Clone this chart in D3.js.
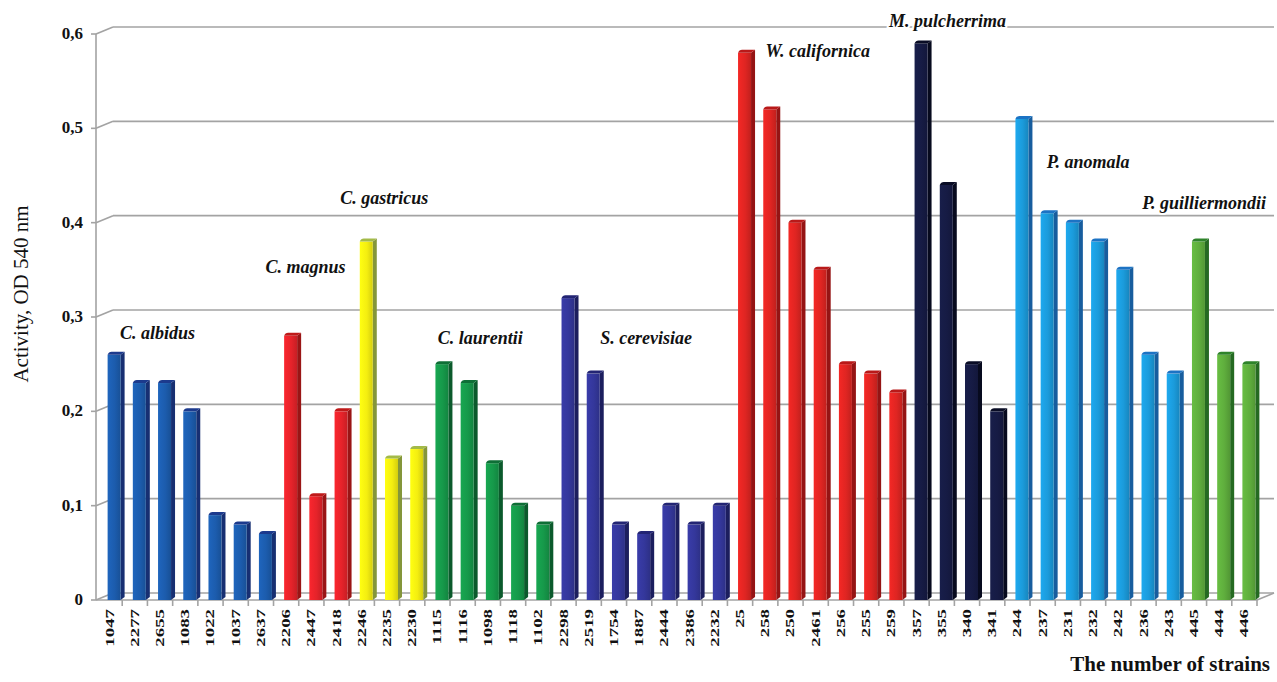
<!DOCTYPE html>
<html lang="en">
<head>
<meta charset="utf-8" />
<title>Activity by strain</title>
<script src="https://d3js.org/d3.v7.min.js"></script>
<style>
  body, html { margin: 0; padding: 0; background: #fff; overflow: hidden; }
  .serif { font-family: "Liberation Serif", "DejaVu Serif", serif; }
  .tick-y { font-size: 17px; font-weight: bold; fill: #111; }
  .tick-x { font-size: 13px; font-weight: bold; fill: #111; }
  .species { font-size: 18px; font-weight: bold; font-style: italic; fill: #111;
             paint-order: stroke; stroke: #fff; stroke-width: 4px; }
</style>
</head>
<body>
<div id="chart"></div>
<script>
// strains in chart order
const strains = ["1047","2277","2655","1083","1022","1037","2637",
  "2206","2447","2418",
  "2246","2235","2230",
  "1115","1116","1098","1118","1102",
  "2298","2519","1754","1887","2444","2386","2232",
  "25","258","250","2461","256","255","259",
  "357","355","340","341",
  "244","237","231","232","242","236","243",
  "445","444","446"];

// activity, OD 540 nm
const activity = [0.26,0.23,0.23,0.20,0.09,0.08,0.07,
  0.28,0.11,0.20,
  0.38,0.15,0.16,
  0.25,0.23,0.145,0.10,0.08,
  0.32,0.24,0.08,0.07,0.10,0.08,0.10,
  0.58,0.52,0.40,0.35,0.25,0.24,0.22,
  0.59,0.44,0.25,0.20,
  0.51,0.41,0.40,0.38,0.35,0.26,0.24,
  0.38,0.26,0.25];

const species = ["C. albidus","C. magnus","C. gastricus","C. laurentii","S. cerevisiae",
  "W. californica","M. pulcherrima","P. anomala","P. guilliermondii"];
const speciesCount = [7,3,3,5,7,7,4,7,3];

const yTicks = [0,0.1,0.2,0.3,0.4,0.5,0.6];
const yTickLabels = ["0","0,1","0,2","0,3","0,4","0,5","0,6"];

// colours per species: front face, side face
const frontColors = ["#1c5cad","#e5232a","#f4ee10","#16994a","#34379b","#df2522","#161b44","#1b9bdb","#5fae3d"];
const sideColors  = ["#172f72","#9a1515","#84963a","#0b5a2c","#1c1e5e","#951414","#070a1e","#175d9e","#256a22"];

// species label placement: strain the label starts over, and height (activity units) of baseline
const labelStrain = ["1047","2206","2246","1115","2519","25","357","244","445"];
const labelDx     = [23, -8, -9, 13, 24, 38, -15, 42, -39];
const labelValue  = [0.277, 0.347, 0.420, 0.271, 0.271, 0.576, 0.607, 0.458, 0.414];

const W = 1277, H = 682;
const depthX = 17, depthY = -7;

const svg = d3.select("#chart").append("svg")
  .attr("width", W).attr("height", H);

const defs = svg.append("defs");
frontColors.forEach((c, i) => {
  const g = defs.append("linearGradient").attr("id", "gf" + i)
    .attr("x1", "0%").attr("x2", "100%").attr("y1", "0%").attr("y2", "0%");
  g.append("stop").attr("offset", "0%").attr("stop-color", d3.color(c).brighter(0.25));
  g.append("stop").attr("offset", "55%").attr("stop-color", c);
  g.append("stop").attr("offset", "100%").attr("stop-color", d3.color(c).darker(0.4));
});

const x = d3.scaleBand().domain(strains).range([97, 1257]);
const y = d3.scaleLinear().domain([0, 0.6]).range([600, 34]);

const axisX0 = 96;
const gridEnd = x.range()[1];

// group index per strain
const groupOf = [];
speciesCount.forEach((n, gi) => { for (let k = 0; k < n; k++) groupOf.push(gi); });
const data = strains.map((s, i) => ({ strain: s, value: activity[i], g: groupOf[i] }));

// back wall gridlines with 3D connectors
const grid = svg.append("g").attr("stroke", "#a3a3a3").attr("stroke-width", 1.6).attr("fill", "none");
yTicks.forEach(v => {
  grid.append("line")
    .attr("x1", axisX0 + depthX).attr("x2", gridEnd + depthX)
    .attr("y1", y(v) + depthY).attr("y2", y(v) + depthY);
  grid.append("line")
    .attr("x1", axisX0).attr("x2", axisX0 + depthX)
    .attr("y1", y(v)).attr("y2", y(v) + depthY);
  grid.append("line")
    .attr("x1", axisX0 - 5).attr("x2", axisX0)
    .attr("y1", y(v)).attr("y2", y(v));
});
// left axis line
grid.append("line").attr("x1", axisX0).attr("x2", axisX0).attr("y1", y(0.6)).attr("y2", y(0));
// floor front edge and right diagonal
grid.append("line").attr("x1", axisX0).attr("x2", gridEnd).attr("y1", y(0)).attr("y2", y(0));
grid.append("line").attr("x1", gridEnd).attr("x2", gridEnd + depthX)
  .attr("y1", y(0)).attr("y2", y(0) + depthY);
// x tick marks at band boundaries
strains.forEach(s => {
  grid.append("line").attr("x1", x(s) + x.bandwidth()).attr("x2", x(s) + x.bandwidth())
    .attr("y1", y(0)).attr("y2", y(0) + 6);
});

// y tick labels
svg.append("g").selectAll("text").data(yTicks).join("text")
  .attr("class", "serif tick-y")
  .attr("x", 83).attr("y", d => y(d) + 5)
  .attr("text-anchor", "end")
  .text((d, i) => yTickLabels[i]);

// bars
const fw = 13, sw = 4, cap = 3;
const bars = svg.append("g").selectAll("g").data(data).join("g")
  .attr("transform", d => `translate(${x(d.strain) + x.bandwidth() / 2 - 2},0)`);

bars.append("path")
  .attr("fill", d => sideColors[d.g])
  .attr("d", d => {
    const t = y(d.value), b = y(0);
    return `M${fw},${t} L${fw + sw},${t - cap} L${fw + sw},${b - cap} L${fw},${b} Z`;
  });
bars.append("rect")
  .attr("x", 0).attr("width", fw)
  .attr("y", d => y(d.value)).attr("height", d => y(0) - y(d.value))
  .attr("fill", d => `url(#gf${d.g})`);
bars.append("path")
  .attr("fill", d => d3.color(sideColors[d.g]).brighter(0.6))
  .attr("d", d => {
    const t = y(d.value);
    return `M0,${t} Q1,${t - cap} ${sw},${t - cap} L${fw + sw},${t - cap} L${fw},${t} Z`;
  });

// x tick labels (strain numbers), rotated and stretched
svg.append("g").selectAll("text").data(strains).join("text")
  .attr("class", "serif tick-x")
  .attr("text-anchor", "end")
  .attr("transform", d => `translate(${x(d) + x.bandwidth() / 2 + 4},609) rotate(-90) scale(1.45,1)`)
  .text(d => d);

// species labels
svg.append("g").selectAll("text").data(species).join("text")
  .attr("class", "serif species")
  .attr("x", (d, i) => x(labelStrain[i]) + labelDx[i])
  .attr("y", (d, i) => y(labelValue[i]))
  .text(d => d);

// axis titles
svg.append("text")
  .attr("class", "serif")
  .attr("transform", "translate(28,294) rotate(-90)")
  .attr("text-anchor", "middle")
  .style("font-size", "21px").style("fill", "#111")
  .text("Activity, OD 540 nm");

svg.append("text")
  .attr("class", "serif")
  .attr("x", 1270).attr("y", 671)
  .attr("text-anchor", "end")
  .style("font-size", "21px").style("font-weight", "bold").style("fill", "#111")
  .text("The number of strains");
</script>
</body>
</html>
